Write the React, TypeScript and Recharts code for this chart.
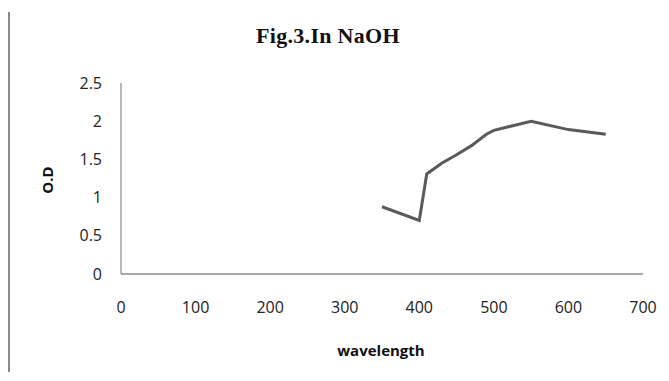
import React from "react";
import { LineChart, Line, XAxis, YAxis } from "recharts";

// absorbance spectrum
const wavelengths = [350, 400, 410, 430, 450, 470, 490, 500, 550, 600, 650];
const od = [0.88, 0.7, 1.31, 1.45, 1.56, 1.68, 1.83, 1.88, 2.0, 1.89, 1.83];

const xTicks = [0, 100, 200, 300, 400, 500, 600, 700];
const yTicks = [0, 0.5, 1, 1.5, 2, 2.5];

const data = wavelengths.map((w, i) => ({ wavelength: w, od: od[i] }));

const tickFont = { fontFamily: "'Open Sans', sans-serif", fontSize: 16, fill: "#222" };

export default function App() {
  return (
    <div style={{ position: "relative", width: 669, height: 381, background: "#fff" }}>
      <style>{`body{margin:0}`}</style>
      {/* page border on the left */}
      <div style={{ position: "absolute", left: 8, top: 12, width: 2, height: 360, background: "#8a8a8a" }} />
      <div
        style={{
          position: "absolute",
          left: 328,
          top: 36,
          transform: "translate(-50%, -50%)",
          fontFamily: "'Liberation Serif', serif",
          fontWeight: "bold",
          fontSize: 22,
          letterSpacing: 0.3,
          color: "#111",
          whiteSpace: "nowrap",
        }}
      >
        Fig.3.In NaOH
      </div>
      <div
        style={{
          position: "absolute",
          left: 47,
          top: 180,
          transform: "translate(-50%, -50%) rotate(-90deg)",
          fontFamily: "'Open Sans', sans-serif",
          fontWeight: "bold",
          fontSize: 15,
          color: "#111",
          whiteSpace: "nowrap",
        }}
      >
        O.D
      </div>
      <div
        style={{
          position: "absolute",
          left: 381,
          top: 350,
          transform: "translate(-50%, -50%)",
          fontFamily: "'Open Sans', sans-serif",
          fontWeight: "bold",
          fontSize: 15,
          color: "#111",
          whiteSpace: "nowrap",
        }}
      >
        wavelength
      </div>
      <div style={{ position: "absolute", left: 0, top: 0 }}>
        <LineChart width={669} height={381} data={data} margin={{ top: 83, right: 26, left: 61, bottom: 47 }}>
          <XAxis
            dataKey="wavelength"
            type="number"
            domain={[0, 700]}
            ticks={xTicks}
            tickLine={false}
            axisLine={{ stroke: "#8a8a8a", strokeWidth: 1.5 }}
            tick={tickFont}
            tickMargin={22}
            height={60}
            interval={0}
          />
          <YAxis
            type="number"
            domain={[0, 2.5]}
            ticks={yTicks}
            tickLine={false}
            axisLine={{ stroke: "#a0a0a0", strokeWidth: 1.5 }}
            tick={tickFont}
            tickMargin={13}
            width={60}
            interval={0}
          />
          <Line
            type="linear"
            dataKey="od"
            stroke="#5a5a5a"
            strokeWidth={3}
            dot={false}
            isAnimationActive={false}
          />
        </LineChart>
      </div>
    </div>
  );
}
